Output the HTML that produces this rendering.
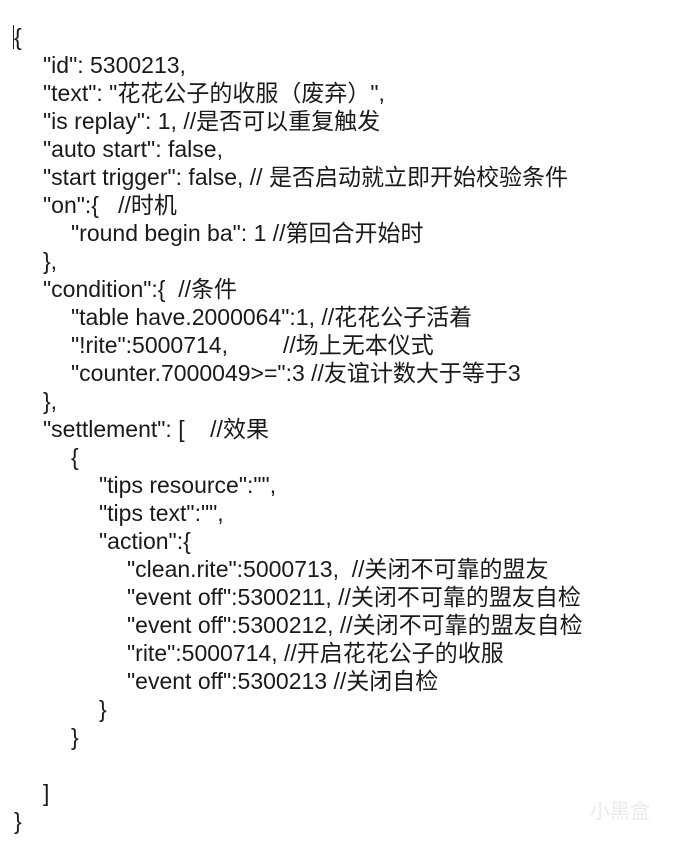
<!DOCTYPE html>
<html><head><meta charset="utf-8"><style>
html,body{margin:0;padding:0;background:#fff;}
body{width:690px;height:841px;position:relative;overflow:hidden;font-family:"Liberation Sans","Microsoft YaHei","Noto Sans CJK SC",sans-serif;font-size:23px;color:#1a1a1a;}
.l{position:absolute;white-space:pre;line-height:28px;height:28px;}
.cur{position:absolute;left:13px;top:25px;width:1px;height:24px;background:#222;}
.wm{position:absolute;left:590px;top:795px;color:#ebebeb;font-size:20px;font-family:"Noto Sans CJK SC",sans-serif;}
</style></head><body>
<div class="cur"></div>
<div class="l" style="left:14px;top:23px">{</div>
<div class="l" style="left:43px;top:51px">"id": 5300213,</div>
<div class="l" style="left:43px;top:79px">"text": "花花公子的收服（废弃）",</div>
<div class="l" style="left:43px;top:107px">"is replay": 1, //是否可以重复触发</div>
<div class="l" style="left:43px;top:135px">"auto start": false,</div>
<div class="l" style="left:43px;top:163px">"start trigger": false, // 是否启动就立即开始校验条件</div>
<div class="l" style="left:43px;top:191px">"on":{   //时机</div>
<div class="l" style="left:71px;top:219px">"round begin ba": 1 //第回合开始时</div>
<div class="l" style="left:43px;top:247px">},</div>
<div class="l" style="left:43px;top:275px">"condition":{  //条件</div>
<div class="l" style="left:71px;top:303px">"table have.2000064":1, //花花公子活着</div>
<div class="l" style="left:71px;top:331px">"!rite":5000714,</div>
<div class="l" style="left:283px;top:331px">//场上无本仪式</div>
<div class="l" style="left:71px;top:359px">"counter.7000049&gt;=":3 //友谊计数大于等于3</div>
<div class="l" style="left:43px;top:387px">},</div>
<div class="l" style="left:43px;top:415px">"settlement": [    //效果</div>
<div class="l" style="left:71px;top:443px">{</div>
<div class="l" style="left:99px;top:471px">"tips resource":"",</div>
<div class="l" style="left:99px;top:499px">"tips text":"",</div>
<div class="l" style="left:99px;top:527px">"action":{</div>
<div class="l" style="left:127px;top:555px">"clean.rite":5000713,  //关闭不可靠的盟友</div>
<div class="l" style="left:127px;top:583px">"event off":5300211, //关闭不可靠的盟友自检</div>
<div class="l" style="left:127px;top:611px">"event off":5300212, //关闭不可靠的盟友自检</div>
<div class="l" style="left:127px;top:639px">"rite":5000714, //开启花花公子的收服</div>
<div class="l" style="left:127px;top:667px">"event off":5300213 //关闭自检</div>
<div class="l" style="left:99px;top:695px">}</div>
<div class="l" style="left:71px;top:723px">}</div>
<div class="l" style="left:43px;top:779px">]</div>
<div class="l" style="left:14px;top:807px">}</div>
<div class="wm">小黑盒</div>
</body></html>
